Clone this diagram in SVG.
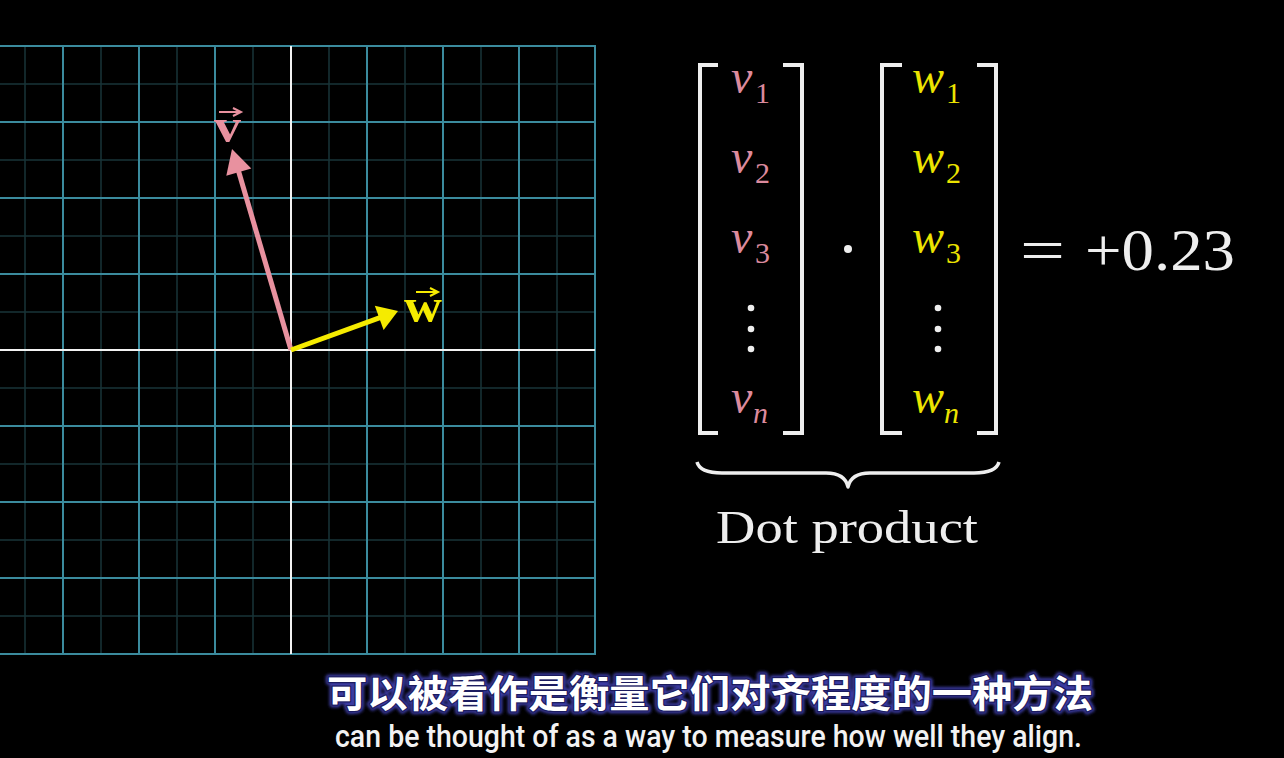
<svg xmlns="http://www.w3.org/2000/svg" width="1284" height="758" viewBox="0 0 1284 758">
<defs>
<style>
.maj{stroke:#3b8b9d;stroke-width:2;fill:none}
.min{stroke:#183439;stroke-width:1.5;fill:none}
.axis{stroke:#f2f2f2;stroke-width:2;fill:none}
.math{font-family:"Liberation Serif","DejaVu Serif",serif}
.it{font-style:italic;font-size:48px}
.sub{font-size:30px}
.pk{fill:#dc8a9d}
.yl{fill:#ece400}
.br{stroke:#eeeeee;stroke-width:4;fill:none}
.wh{fill:#eeeeee}
</style>
<filter id="glow" x="-5%" y="-30%" width="110%" height="160%">
<feGaussianBlur stdDeviation="1.5"/>
</filter>
</defs>
<rect width="1284" height="758" fill="#000"/>
<g id="grid">
<g class="min">
<path d="M25,46V654M101,46V654M177,46V654M253,46V654M329,46V654M405,46V654M481,46V654M557,46V654"/>
<path d="M0,84H595M0,160H595M0,236H595M0,312H595M0,388H595M0,464H595M0,540H595M0,616H595"/>
</g>
<g class="maj">
<path d="M63,46V654M139,46V654M215,46V654M367,46V654M443,46V654M519,46V654M595,46V654"/>
<path d="M0,46H596M0,122H595M0,198H595M0,274H595M0,426H595M0,502H595M0,578H595M0,654H596"/>
</g>
<g class="axis">
<path d="M291,46V654M0,350H595"/>
</g>
</g>
<g id="vector-v">
<line x1="291" y1="350" x2="238.2" y2="170" stroke="#e8919f" stroke-width="5"/>
<polygon points="232,149 251.3,168.4 226.3,175.7" fill="#e8919f"/>
<text x="214" y="142" class="math" font-weight="bold" font-size="48" textLength="27" lengthAdjust="spacingAndGlyphs" fill="#e8919f">v</text>
<path d="M219,112H240M233,108L241,112L233,116" stroke="#e8919f" stroke-width="2" fill="none"/>
</g>
<g id="vector-w">
<line x1="291" y1="350" x2="380" y2="317.6" stroke="#f5eb00" stroke-width="5"/>
<polygon points="398,311 383.6,330.1 374.8,305.7" fill="#f5eb00"/>
<text x="404" y="322" class="math" font-weight="bold" font-size="48" textLength="38" lengthAdjust="spacingAndGlyphs" fill="#f5eb00">w</text>
<path d="M416,292H437M430,288L438,292L430,296" stroke="#f5eb00" stroke-width="2" fill="none"/>
</g>
<g id="matrix-v">
<path class="br" d="M718,65H700V433H718M783,65H802V433H783"/>
<g class="math pk">
<text x="731" y="93" class="it">v</text><text x="755" y="103" class="sub">1</text>
<text x="731" y="173" class="it">v</text><text x="755" y="183" class="sub">2</text>
<text x="731" y="253" class="it">v</text><text x="755" y="263" class="sub">3</text>
<text x="731" y="413" class="it">v</text><text x="753" y="423" class="sub" font-style="italic">n</text>
</g>
<g class="wh"><circle cx="751" cy="308" r="3.3"/><circle cx="751" cy="329" r="3.3"/><circle cx="751" cy="349" r="3.3"/></g>
</g>
<g id="dot-operator"><circle cx="848" cy="249" r="4" class="wh"/></g>
<g id="matrix-w">
<path class="br" d="M902,65H882V433H902M977,65H996V433H977"/>
<g class="math yl">
<text x="912" y="93" class="it">w</text><text x="946" y="103" class="sub">1</text>
<text x="912" y="173" class="it">w</text><text x="946" y="183" class="sub">2</text>
<text x="912" y="253" class="it">w</text><text x="946" y="263" class="sub">3</text>
<text x="912" y="413" class="it">w</text><text x="944" y="423" class="sub" font-style="italic">n</text>
</g>
<g class="wh"><circle cx="938" cy="308" r="3.3"/><circle cx="938" cy="329" r="3.3"/><circle cx="938" cy="349" r="3.3"/></g>
</g>
<g id="result">
<text x="1020" y="270" class="math wh" font-size="60" textLength="45" lengthAdjust="spacingAndGlyphs">=</text>
<text x="1085" y="270" class="math wh" font-size="60" textLength="150" lengthAdjust="spacingAndGlyphs">+0.23</text>
</g>
<g id="brace">
<path d="M697,462Q700,473 722,473L826,473Q845,473 848,487Q851,473 870,473L974,473Q996,473 999,462" stroke="#eeeeee" stroke-width="3.5" fill="none" stroke-linejoin="round"/>
<text x="716" y="543" class="math wh" font-size="47" textLength="262" lengthAdjust="spacingAndGlyphs">Dot product</text>
</g>
<g id="subtitles">
<text x="327" y="707" font-family="'Noto Sans CJK SC',sans-serif" font-weight="bold" font-size="38" fill="none" stroke="#3a3aa0" stroke-width="6" stroke-linejoin="round" textLength="766" lengthAdjust="spacingAndGlyphs" filter="url(#glow)">可以被看作是衡量它们对齐程度的一种方法</text>
<text x="327" y="707" font-family="'Noto Sans CJK SC',sans-serif" font-weight="bold" font-size="38" fill="#ffffff" stroke="#1c1c60" stroke-width="2.5" paint-order="stroke" stroke-linejoin="round" textLength="766" lengthAdjust="spacingAndGlyphs">可以被看作是衡量它们对齐程度的一种方法</text>
<text x="335" y="747" font-family="Roboto,'Liberation Sans',sans-serif" font-weight="500" font-size="31" fill="#f2f2f2" textLength="747" lengthAdjust="spacingAndGlyphs">can be thought of as a way to measure how well they align.</text>
</g>
</svg>
